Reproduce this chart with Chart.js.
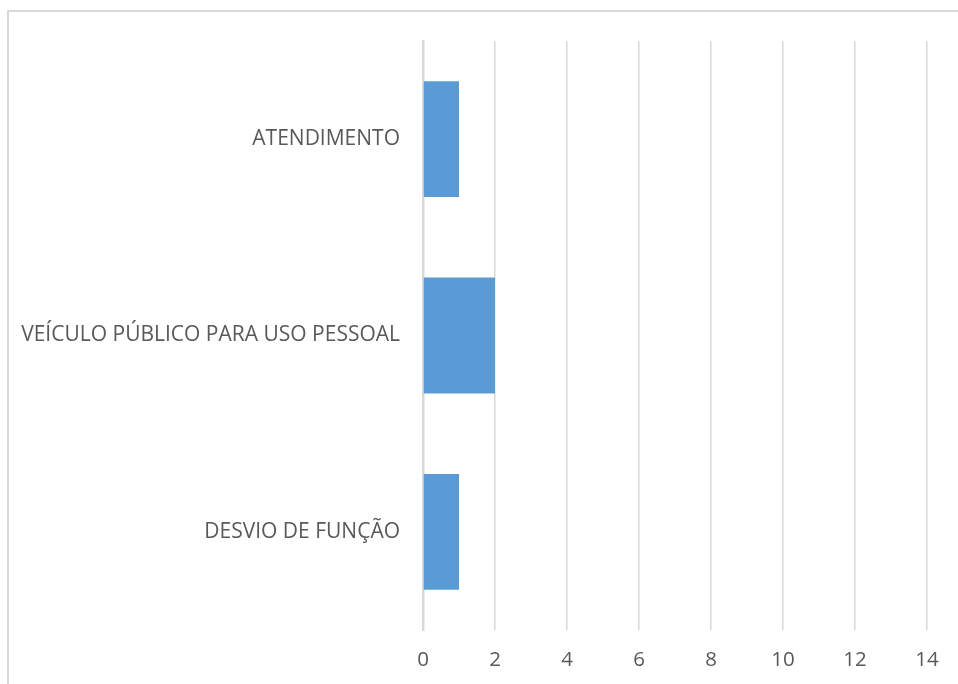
<!DOCTYPE html>
<html>
<head>
<meta charset="utf-8">
<script src="https://cdn.jsdelivr.net/npm/chart.js@4"></script>
<style>
    html, body { margin: 0; padding: 0; background: #fff; overflow: hidden; }
    #wrap { position: relative; width: 958px; height: 684px; }
    #frame { position: absolute; left: 7px; top: 10px; width: 1000px; height: 1000px; border: 2px solid #d9d9d9; box-sizing: border-box; }
    canvas { position: absolute; left: 0; top: 0; }
</style>
</head>
<body>
<div id="wrap">
    <div id="frame"></div>
    <canvas id="chart" width="958" height="684"></canvas>
</div>
<script>
// --- Data ---
const categories = ['ATENDIMENTO', 'VEÍCULO PÚBLICO PARA USO PESSOAL', 'DESVIO DE FUNÇÃO'];
const values = [1, 2, 1];
const axisMin = 0;
const axisMax = 14;
const axisStep = 2;

const textColor = '#595959';
const gridColor = '#d9d9d9';

const ctx = document.getElementById('chart').getContext('2d');
new Chart(ctx, {
    type: 'bar',
    data: {
        labels: categories,
        datasets: [{
            data: values,
            backgroundColor: '#5b9bd5',
            borderWidth: 0,
            categoryPercentage: 1,
            barPercentage: 0.59
        }]
    },
    options: {
        indexAxis: 'y',
        responsive: false,
        animation: false,
        layout: { padding: { top: 41, right: 31, bottom: 0, left: 0 } },
        plugins: {
            legend: { display: false },
            tooltip: { enabled: false }
        },
        scales: {
            x: {
                min: axisMin,
                max: axisMax,
                ticks: {
                    stepSize: axisStep,
                    color: textColor,
                    font: { family: 'Open Sans', size: 20.5 },
                    padding: 18
                },
                grid: { color: gridColor, lineWidth: 1.5, drawTicks: false },
                border: { display: false },
                afterFit: scale => { scale.height = 54; }
            },
            y: {
                ticks: {
                    color: textColor,
                    font: { family: 'Open Sans', size: 21 },
                    padding: 23
                },
                grid: { display: false, drawTicks: false },
                border: { display: true, color: gridColor, width: 2.5 },
                afterFit: scale => { scale.width = 423; }
            }
        }
    }
});
</script>
</body>
</html>
